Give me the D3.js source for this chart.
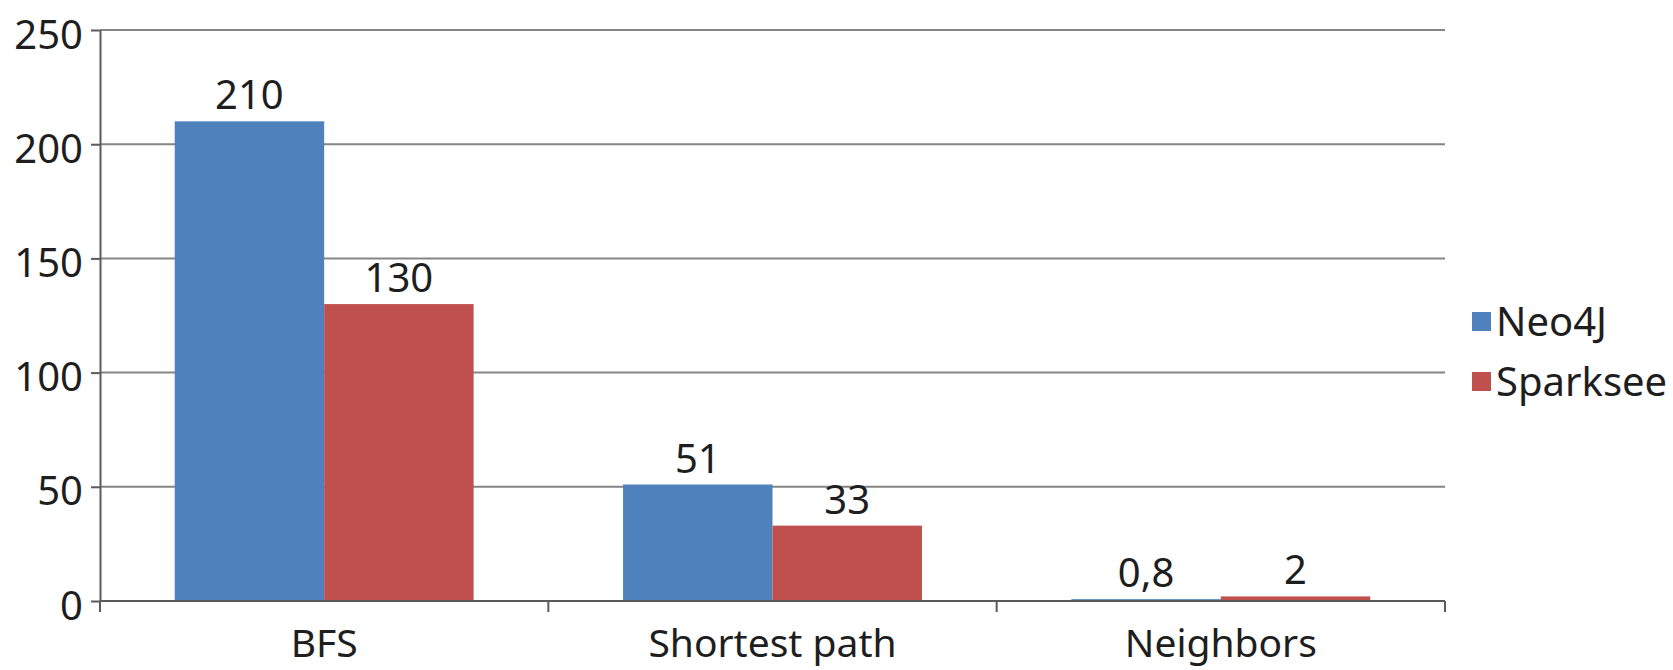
<!DOCTYPE html>
<html>
<head>
<meta charset="utf-8">
<script src="https://cdn.jsdelivr.net/npm/d3@7"></script>
<style>
  body { margin: 0; background: #fff; }
  text { font-family: "Noto Sans", sans-serif; fill: #1e1e1e; }
</style>
</head>
<body>
<div id="chart"></div>
<script>
// data
var categories = ["BFS", "Shortest path", "Neighbors"];
var series = ["Neo4J", "Sparksee"];
var neo4j = [210, 51, 0.8];
var sparksee = [130, 33, 2];
var yTicks = [0, 50, 100, 150, 200, 250];
var colors = ["#4f81bd", "#c0504d"];

var W = 1673, H = 670;
var margin = {top: 30, right: 228, bottom: 69, left: 100};
var width = W - margin.left - margin.right;
var height = H - margin.top - margin.bottom;

var svg = d3.select("#chart").append("svg")
        .attr("width", W)
        .attr("height", H);

var g = svg.append("g")
        .attr("transform", "translate(" + margin.left + "," + margin.top + ")");

var x0 = d3.scaleBand().domain(categories).range([0, width]).padding(0);
var x1 = d3.scaleBand().domain(series).range([0, x0.bandwidth()])
        .paddingInner(0).paddingOuter(0.5);
var y = d3.scaleLinear().domain([0, 250]).range([height, 0]);

var fmt = d3.formatLocale({decimal: ",", thousands: ".", grouping: [3], currency: ["", ""]}).format("~g");

var rows = categories.map(function (c, i) {
    return {cat: c, vals: [{s: series[0], v: neo4j[i]}, {s: series[1], v: sparksee[i]}]};
});

// gridlines
g.append("g")
        .selectAll("line")
        .data(yTicks.filter(function (d) { return d > 0; }))
        .enter().append("line")
        .attr("x1", 0)
        .attr("x2", width)
        .attr("y1", function (d) { return y(d); })
        .attr("y2", function (d) { return y(d); })
        .attr("stroke", "#858585")
        .attr("stroke-width", 2);

// bars
var grp = g.selectAll(".grp")
        .data(rows)
        .enter().append("g")
        .attr("class", "grp")
        .attr("transform", function (d) { return "translate(" + x0(d.cat) + ",0)"; });

grp.selectAll("rect")
        .data(function (d) { return d.vals; })
        .enter().append("rect")
        .attr("x", function (d) { return x1(d.s); })
        .attr("y", function (d) { return y(d.v); })
        .attr("width", x1.bandwidth())
        .attr("height", function (d) { return height - y(d.v); })
        .attr("fill", function (d, i) { return colors[i]; });

grp.selectAll(".lbl")
        .data(function (d) { return d.vals; })
        .enter().append("text")
        .attr("class", "lbl")
        .attr("text-anchor", "middle")
        .attr("x", function (d) { return x1(d.s) + x1.bandwidth() / 2; })
        .attr("y", function (d) { return y(d.v) - 12; })
        .style("font-size", "40px")
        .text(function (d) { return fmt(d.v); });

// y axis
var yAxis = g.append("g")
        .call(d3.axisLeft(y).tickValues(yTicks).tickSizeInner(9).tickSizeOuter(0).tickPadding(8));
yAxis.select(".domain").attr("stroke", "#5a5a5a").attr("stroke-width", 2);
yAxis.selectAll(".tick line").attr("stroke", "#5a5a5a").attr("stroke-width", 2);
yAxis.selectAll(".tick text")
        .style("font-size", "40px")
        .attr("dy", "0.45em")
        .attr("fill", "#1e1e1e");

// x axis
var xAxis = g.append("g")
        .attr("transform", "translate(0," + height + ")");
xAxis.append("line")
        .attr("x1", 0).attr("x2", width)
        .attr("stroke", "#5a5a5a").attr("stroke-width", 2);
xAxis.selectAll(".xt")
        .data(categories.concat(["end"]))
        .enter().append("line")
        .attr("class", "xt")
        .attr("x1", function (d, i) { return i * x0.step(); })
        .attr("x2", function (d, i) { return i * x0.step(); })
        .attr("y1", 0).attr("y2", 11)
        .attr("stroke", "#5a5a5a").attr("stroke-width", 2);
xAxis.selectAll(".xl")
        .data(categories)
        .enter().append("text")
        .attr("class", "xl")
        .attr("text-anchor", "middle")
        .attr("x", function (d) { return x0(d) + x0.bandwidth() / 2; })
        .attr("y", 56)
        .style("font-size", "39px")
        .text(function (d) { return d; });

// legend
var legend = svg.append("g")
        .attr("transform", "translate(1472,312)");
var li = legend.selectAll("g")
        .data(series)
        .enter().append("g")
        .attr("transform", function (d, i) { return "translate(0," + (i * 60) + ")"; });
li.append("rect")
        .attr("width", 19)
        .attr("height", 19)
        .attr("fill", function (d, i) { return colors[i]; });
li.append("text")
        .attr("x", 24)
        .attr("y", 24)
        .style("font-size", "40px")
        .text(function (d) { return d; });
</script>
</body>
</html>
